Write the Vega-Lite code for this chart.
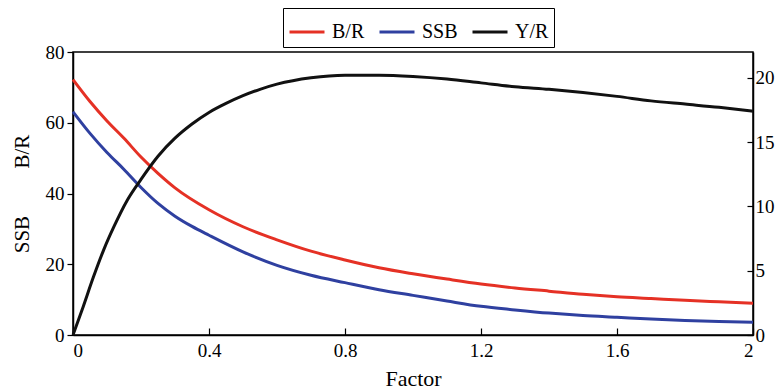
{
  "$schema": "https://vega.github.io/schema/vega-lite/v6.json",
  "width": 680,
  "height": 283,
  "autosize": "none",
  "padding": {"left": 73, "top": 52, "right": 31, "bottom": 57},
  "background": "white",
  "config": {
    "font": "Liberation Serif, Times New Roman, serif",
    "view": {"stroke": "black", "strokeWidth": 1.5},
    "axis": {"grid": false, "domainColor": "black", "domainWidth": 1.5, "tickColor": "black", "tickWidth": 1.2, "labelColor": "black", "titleColor": "black", "labelFontSize": 19, "titleFontSize": 21, "titleFontWeight": "normal", "labelFont": "Liberation Serif, Times New Roman, serif", "titleFont": "Liberation Serif, Times New Roman, serif"},
    "legend": {"labelFont": "Liberation Serif, Times New Roman, serif", "labelFontSize": 20, "labelColor": "black"}
  },
  "data": {"values": [
    {"f": 0, "s": "B/R", "v": 72.2}, {"f": 0.05, "s": "B/R", "v": 66}, {"f": 0.1, "s": "B/R", "v": 60.5}, {"f": 0.15, "s": "B/R", "v": 55.6}, {"f": 0.2, "s": "B/R", "v": 50.3}, {"f": 0.25, "s": "B/R", "v": 45.7}, {"f": 0.3, "s": "B/R", "v": 41.6}, {"f": 0.4, "s": "B/R", "v": 35.4}, {"f": 0.5, "s": "B/R", "v": 30.6}, {"f": 0.6, "s": "B/R", "v": 26.9}, {"f": 0.7, "s": "B/R", "v": 23.7}, {"f": 0.8, "s": "B/R", "v": 21.2}, {"f": 0.9, "s": "B/R", "v": 19.0}, {"f": 1.0, "s": "B/R", "v": 17.3}, {"f": 1.1, "s": "B/R", "v": 15.8}, {"f": 1.2, "s": "B/R", "v": 14.4}, {"f": 1.3, "s": "B/R", "v": 13.3}, {"f": 1.4, "s": "B/R", "v": 12.4}, {"f": 1.5, "s": "B/R", "v": 11.5}, {"f": 1.6, "s": "B/R", "v": 10.8}, {"f": 1.7, "s": "B/R", "v": 10.3}, {"f": 1.8, "s": "B/R", "v": 9.8}, {"f": 1.9, "s": "B/R", "v": 9.4}, {"f": 2.0, "s": "B/R", "v": 9.0},
    {"f": 0, "s": "SSB", "v": 63.1}, {"f": 0.05, "s": "SSB", "v": 57}, {"f": 0.1, "s": "SSB", "v": 51.6}, {"f": 0.15, "s": "SSB", "v": 46.8}, {"f": 0.2, "s": "SSB", "v": 41.7}, {"f": 0.25, "s": "SSB", "v": 37.2}, {"f": 0.3, "s": "SSB", "v": 33.6}, {"f": 0.35, "s": "SSB", "v": 30.7}, {"f": 0.4, "s": "SSB", "v": 28.2}, {"f": 0.5, "s": "SSB", "v": 23.5}, {"f": 0.6, "s": "SSB", "v": 19.7}, {"f": 0.7, "s": "SSB", "v": 16.9}, {"f": 0.8, "s": "SSB", "v": 14.8}, {"f": 0.9, "s": "SSB", "v": 12.8}, {"f": 1.0, "s": "SSB", "v": 11.2}, {"f": 1.1, "s": "SSB", "v": 9.6}, {"f": 1.2, "s": "SSB", "v": 8.1}, {"f": 1.3, "s": "SSB", "v": 7.1}, {"f": 1.4, "s": "SSB", "v": 6.2}, {"f": 1.5, "s": "SSB", "v": 5.5}, {"f": 1.6, "s": "SSB", "v": 5.0}, {"f": 1.7, "s": "SSB", "v": 4.5}, {"f": 1.8, "s": "SSB", "v": 4.1}, {"f": 1.9, "s": "SSB", "v": 3.8}, {"f": 2.0, "s": "SSB", "v": 3.6},
    {"f": 0, "s": "Y/R", "v": 0}, {"f": 0.03, "s": "Y/R", "v": 2.2}, {"f": 0.06, "s": "Y/R", "v": 4.5}, {"f": 0.09, "s": "Y/R", "v": 6.6}, {"f": 0.12, "s": "Y/R", "v": 8.4}, {"f": 0.16, "s": "Y/R", "v": 10.5}, {"f": 0.2, "s": "Y/R", "v": 12.1}, {"f": 0.25, "s": "Y/R", "v": 13.9}, {"f": 0.3, "s": "Y/R", "v": 15.3}, {"f": 0.35, "s": "Y/R", "v": 16.4}, {"f": 0.4, "s": "Y/R", "v": 17.3}, {"f": 0.45, "s": "Y/R", "v": 18.0}, {"f": 0.5, "s": "Y/R", "v": 18.6}, {"f": 0.55, "s": "Y/R", "v": 19.1}, {"f": 0.6, "s": "Y/R", "v": 19.5}, {"f": 0.7, "s": "Y/R", "v": 20.0}, {"f": 0.8, "s": "Y/R", "v": 20.2}, {"f": 0.9, "s": "Y/R", "v": 20.2}, {"f": 1.0, "s": "Y/R", "v": 20.1}, {"f": 1.1, "s": "Y/R", "v": 19.9}, {"f": 1.2, "s": "Y/R", "v": 19.6}, {"f": 1.3, "s": "Y/R", "v": 19.3}, {"f": 1.4, "s": "Y/R", "v": 19.1}, {"f": 1.5, "s": "Y/R", "v": 18.85}, {"f": 1.6, "s": "Y/R", "v": 18.55}, {"f": 1.7, "s": "Y/R", "v": 18.2}, {"f": 1.8, "s": "Y/R", "v": 17.95}, {"f": 1.9, "s": "Y/R", "v": 17.7}, {"f": 2.0, "s": "Y/R", "v": 17.4}
  ]},
  "encoding": {
    "x": {"field": "f", "type": "quantitative", "scale": {"domain": [0, 2], "nice": false}, "axis": {"title": "Factor", "titleFontSize": 22, "values": [0, 0.4, 0.8, 1.2, 1.6, 2], "format": "~g", "tickSize": -7, "labelPadding": 13, "titlePadding": 8, "labelFont": "Liberation Serif", "titleFont": "Liberation Serif"}},
    "color": {"field": "s", "type": "nominal", "scale": {"domain": ["B/R", "SSB", "Y/R"], "range": ["#e53125", "#2f40a0", "#111111"]}, "legend": {"title": null, "orient": "none", "direction": "horizontal", "legendX": 210, "legendY": -44, "symbolType": "stroke", "symbolSize": 1225, "symbolStrokeWidth": 3, "strokeColor": "black", "padding": 5, "columnPadding": 8, "labelOffset": 6, "labelFont": "Liberation Serif"}}
  },
  "layer": [
    {
      "transform": [{"filter": "datum.s !== 'Y/R'"}],
      "mark": {"type": "line", "strokeWidth": 3, "interpolate": "monotone"},
      "encoding": {
        "y": {"field": "v", "type": "quantitative", "scale": {"domain": [0, 80], "nice": false}, "axis": {"orient": "left", "title": "SSB\u00a0\u00a0\u00a0\u00a0\u00a0\u00a0\u00a0\u00a0\u00a0B/R", "values": [0, 20, 40, 60, 80], "tickSize": 6, "labelPadding": 3, "titlePadding": 13, "labelFont": "Liberation Serif", "titleFont": "Liberation Serif"}}
      }
    },
    {
      "transform": [{"filter": "datum.s === 'Y/R'"}],
      "mark": {"type": "line", "strokeWidth": 3, "interpolate": "monotone"},
      "encoding": {
        "y": {"field": "v", "type": "quantitative", "scale": {"domain": [0, 22], "nice": false}, "axis": {"orient": "right", "title": null, "values": [0, 5, 10, 15, 20], "tickSize": -6, "labelPadding": 8, "labelFont": "Liberation Serif"}}
      }
    }
  ],
  "resolve": {"scale": {"y": "independent"}}
}
